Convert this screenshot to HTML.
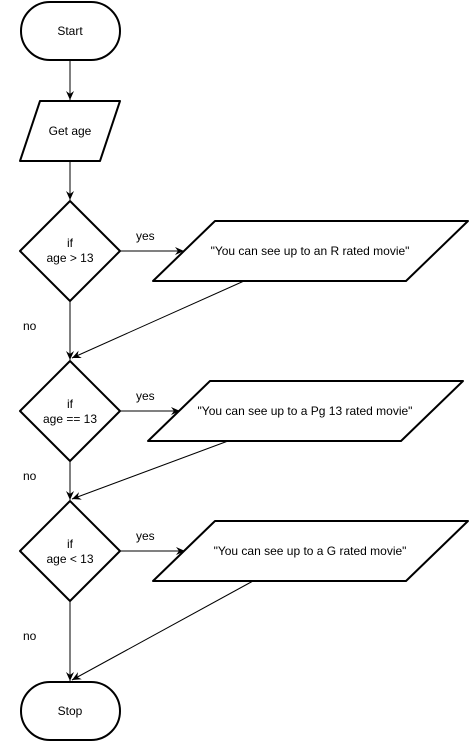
<!DOCTYPE html>
<html><head><meta charset="utf-8">
<style>
html,body{margin:0;padding:0;background:#fff;}
svg{display:block;}
text{font-family:"Liberation Sans",Arial,sans-serif;font-size:12px;fill:#000;}
</style></head>
<body>
<svg width="472" height="743" viewBox="0 0 472 743" xmlns="http://www.w3.org/2000/svg">
<defs>
<marker id="ah" markerWidth="10" markerHeight="10" refX="9" refY="5" orient="auto" markerUnits="userSpaceOnUse">
<path d="M0,1 L9,5 L0,9 L3,5 Z" fill="#000"/>
</marker>
</defs>
<g fill="#fff" stroke="#000" stroke-width="2" stroke-linejoin="round">
<rect x="21" y="2" width="99" height="58" rx="29"/>
<path d="M40,101 L120,101 L100,161 L20,161 Z"/>
<path d="M70,201 L120,251 L70,301 L20,251 Z"/>
<path d="M215,221 L468,221 L406,281 L153,281 Z"/>
<path d="M70,361 L120,411 L70,461 L20,411 Z"/>
<path d="M210,381 L463,381 L401,441 L148,441 Z"/>
<path d="M70,501 L120,551 L70,601 L20,551 Z"/>
<path d="M215,521 L468,521 L406,581 L153,581 Z"/>
<rect x="21" y="682" width="99" height="58" rx="29"/>
</g>
<g stroke="#000" stroke-width="1" fill="none" marker-end="url(#ah)">
<line x1="70" y1="60" x2="70" y2="100"/>
<line x1="70" y1="161" x2="70" y2="200"/>
<line x1="120" y1="251" x2="184" y2="251"/>
<line x1="70" y1="301" x2="70" y2="360"/>
<line x1="244" y1="281" x2="72" y2="358"/>
<line x1="120" y1="411" x2="180" y2="411"/>
<line x1="70" y1="461" x2="70" y2="500"/>
<line x1="228" y1="441" x2="72" y2="499"/>
<line x1="120" y1="551" x2="185" y2="551"/>
<line x1="70" y1="601" x2="70" y2="681"/>
<line x1="253" y1="581" x2="72" y2="680"/>
</g>
<g text-anchor="middle">
<text x="70" y="35">Start</text>
<text x="70" y="135">Get age</text>
<text x="70" y="247">if</text>
<text x="70" y="262">age &gt; 13</text>
<text x="310" y="255">"You can see up to an R rated movie"</text>
<text x="70" y="408">if</text>
<text x="70" y="423">age == 13</text>
<text x="305" y="415">"You can see up to a Pg 13 rated movie"</text>
<text x="70" y="548">if</text>
<text x="70" y="563">age &lt; 13</text>
<text x="310" y="555">"You can see up to a G rated movie"</text>
<text x="70" y="715">Stop</text>
</g>
<g>
<text x="136" y="240">yes</text>
<text x="23" y="330">no</text>
<text x="136" y="400">yes</text>
<text x="23" y="480">no</text>
<text x="136" y="540">yes</text>
<text x="23" y="640">no</text>
</g>
</svg>
</body></html>
